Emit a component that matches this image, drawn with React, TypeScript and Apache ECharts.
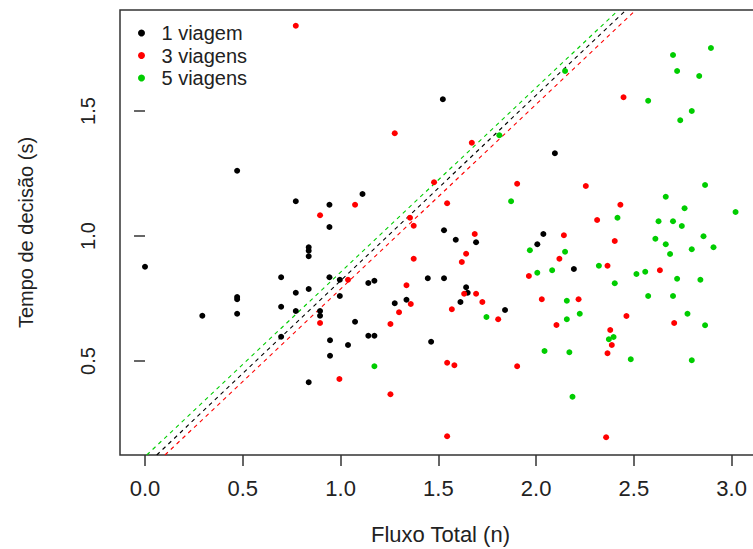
import React, { useEffect, useRef } from "react";
import * as echarts from "echarts";

const xTicks = [0, 0.5, 1.0, 1.5, 2.0, 2.5, 3.0];
const yTicks = [0.5, 1.0, 1.5];
const seriesNames = ["1 viagem", "3 viagens", "5 viagens"];
const seriesColors = ["#000000", "#ff0000", "#00cd00"];

const viagem1 = [
  [1.523, 1.547], [2.096, 1.331], [0.471, 1.261], [0.771, 1.139], [0.943, 1.125],
  [0.943, 1.036], [0.837, 0.955], [0.837, 0.941], [0.837, 0.919], [0.0, 0.877],
  [0.696, 0.835], [0.943, 0.835], [0.771, 0.773], [0.837, 0.788], [0.471, 0.756],
  [0.471, 0.747], [0.696, 0.717], [0.293, 0.681], [0.471, 0.689], [0.771, 0.7],
  [0.895, 0.7], [0.895, 0.681], [0.696, 0.597], [0.946, 0.583], [0.946, 0.521],
  [0.837, 0.415], [1.112, 1.168], [1.529, 1.023], [1.589, 0.985], [1.693, 0.975],
  [2.006, 0.967], [0.996, 0.825], [0.996, 0.76], [1.142, 0.812], [1.173, 0.821],
  [1.446, 0.831], [1.529, 0.831], [1.642, 0.795], [1.65, 0.773], [1.277, 0.731],
  [1.337, 0.745], [1.841, 0.704], [1.074, 0.657], [1.142, 0.601], [1.173, 0.601],
  [1.038, 0.564], [1.463, 0.577], [1.613, 0.736], [2.037, 1.008], [2.193, 0.868],
];

const viagens3 = [
  [0.771, 1.841], [1.277, 1.411], [1.671, 1.373], [2.447, 1.555], [0.895, 1.083],
  [0.895, 0.652], [1.074, 1.125], [1.478, 1.215], [1.903, 1.209], [1.545, 1.131],
  [1.355, 1.073], [1.374, 1.041], [1.686, 1.008], [1.374, 0.909], [1.642, 0.929],
  [1.62, 0.896], [1.963, 0.84], [1.038, 0.825], [1.337, 0.803], [1.632, 0.769],
  [1.693, 0.769], [1.725, 0.736], [1.359, 0.728], [1.569, 0.707], [1.299, 0.695],
  [1.255, 0.648], [1.806, 0.667], [0.994, 0.428], [1.545, 0.493], [1.582, 0.483],
  [1.903, 0.479], [1.255, 0.367], [1.545, 0.199], [2.254, 1.2], [2.431, 1.125],
  [2.312, 1.064], [2.142, 1.003], [2.402, 0.98], [2.119, 0.909], [2.365, 0.881],
  [2.633, 0.863], [2.029, 0.747], [2.217, 0.747], [2.104, 0.644], [2.462, 0.68],
  [2.706, 0.652], [2.379, 0.624], [2.387, 0.564], [2.365, 0.531], [2.358, 0.195],
];

const viagens5 = [
  [1.812, 1.403], [2.148, 1.66], [2.7, 1.724], [2.894, 1.752], [2.721, 1.66],
  [2.834, 1.64], [2.573, 1.541], [2.796, 1.5], [2.737, 1.463], [1.872, 1.139],
  [1.968, 0.943], [2.006, 0.853], [1.746, 0.676], [1.173, 0.479], [2.663, 1.157],
  [2.864, 1.204], [3.02, 1.096], [2.759, 1.111], [2.416, 1.073], [2.626, 1.059],
  [2.7, 1.059], [2.745, 1.04], [2.61, 0.989], [2.856, 0.999], [2.663, 0.967],
  [2.148, 0.937], [2.907, 0.955], [2.796, 0.947], [2.685, 0.928], [2.321, 0.881],
  [2.082, 0.863], [2.513, 0.848], [2.558, 0.857], [2.721, 0.829], [2.84, 0.825],
  [2.402, 0.811], [2.157, 0.741], [2.573, 0.76], [2.7, 0.76], [2.223, 0.689],
  [2.157, 0.667], [2.774, 0.689], [2.864, 0.643], [2.396, 0.596], [2.372, 0.587],
  [2.043, 0.54], [2.17, 0.535], [2.484, 0.507], [2.796, 0.503], [2.186, 0.357],
];

// dashed boundary lines (endpoints read at the plot's bottom and top edges)
const lineGreen = [[0.009, 0.124], [2.421, 1.904]];
const lineBlack = [[0.06, 0.124], [2.46, 1.904]];
const lineRed = [[0.102, 0.124], [2.51, 1.904]];

const FONT = "'Liberation Sans', Arial, sans-serif";
const TEXT = "#222222";
const FS_H = 22;
const FS_V = 20;
const FS_LEGEND = 20;

export default function App() {
  const ref = useRef<HTMLDivElement>(null);
  useEffect(() => {
    if (!ref.current) return;
    const chart = echarts.init(ref.current, null, { renderer: "svg" });
    const scatter = (name: string, data: number[][], color: string) => ({
      name,
      type: "scatter",
      data,
      symbol: "circle",
      symbolSize: 6,
      itemStyle: { color, opacity: 1 },
      z: 3,
    });
    const dashed = (name: string, data: number[][], color: string) => ({
      name,
      type: "line",
      data,
      symbol: "none",
      silent: true,
      lineStyle: { color, width: 1.1, type: [4, 4] },
      z: 2,
    });
    chart.setOption({
      animation: false,
      backgroundColor: "#ffffff",
      textStyle: { fontFamily: FONT },
      grid: {
        left: 120,
        top: 10,
        right: -8,
        bottom: 94,
        show: true,
        borderColor: "#333333",
        borderWidth: 1.5,
        backgroundColor: "transparent",
        containLabel: false,
        outerBoundsMode: "none",
      },
      legend: {
        data: seriesNames,
        orient: "vertical",
        left: 138,
        top: 22,
        padding: 0,
        itemGap: 0.5,
        itemWidth: 30,
        itemHeight: 7,
        icon: "circle",
        textStyle: { fontFamily: FONT, fontSize: FS_LEGEND, color: TEXT, lineHeight: 22 },
      },
      xAxis: {
        type: "value",
        min: -0.128,
        max: 3.15,
        name: "Fluxo Total (n)",
        nameLocation: "middle",
        nameGap: 68,
        nameTextStyle: { fontFamily: FONT, fontSize: FS_H, color: TEXT },
        axisLine: { show: false },
        splitLine: { show: false },
        axisTick: {
          show: true,
          length: 11,
          customValues: xTicks,
          lineStyle: { color: "#333333", width: 1.5 },
        },
        axisLabel: {
          customValues: xTicks,
          margin: 22,
          fontFamily: FONT,
          fontSize: FS_H,
          color: TEXT,
          formatter: (v: number) => v.toFixed(1),
        },
      },
      yAxis: {
        type: "value",
        min: 0.124,
        max: 1.904,
        name: "Tempo de decisão (s)",
        nameLocation: "middle",
        nameGap: 84,
        nameTextStyle: { fontFamily: FONT, fontSize: FS_V, color: TEXT },
        axisLine: { show: false },
        splitLine: { show: false },
        axisTick: {
          show: true,
          length: 11,
          customValues: yTicks,
          lineStyle: { color: "#333333", width: 1.5 },
        },
        axisLabel: {
          customValues: yTicks,
          rotate: 90,
          margin: 22,
          fontFamily: FONT,
          fontSize: FS_V,
          color: TEXT,
          formatter: (v: number) => v.toFixed(1),
        },
      },
      series: [
        dashed("limite 5", lineGreen, "#00cd00"),
        dashed("limite 1", lineBlack, "#000000"),
        dashed("limite 3", lineRed, "#ff0000"),
        scatter(seriesNames[0], viagem1, seriesColors[0]),
        scatter(seriesNames[1], viagens3, seriesColors[1]),
        scatter(seriesNames[2], viagens5, seriesColors[2]),
      ],
    });
    return () => chart.dispose();
  }, []);
  return (
    <div
      ref={ref}
      style={{ position: "fixed", left: 0, top: 0, width: 753, height: 549, overflow: "hidden" }}
    />
  );
}
